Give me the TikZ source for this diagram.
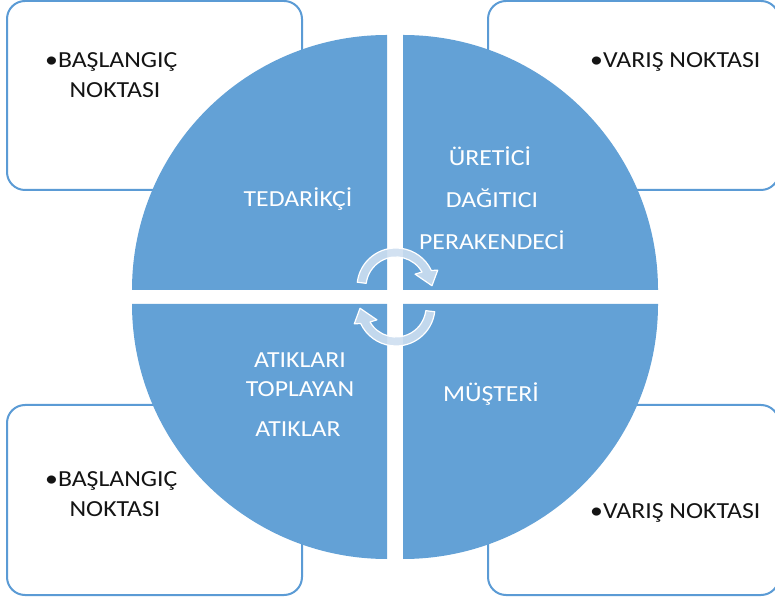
\documentclass[tikz,border=0pt]{standalone}
\usepackage{fontspec}
\usetikzlibrary{calc}
\setmainfont{Carlito}[FakeStretch=1.12]
\definecolor{qblue}{RGB}{99,161,214}
\definecolor{boxline}{RGB}{91,155,213}
\definecolor{arrfill}{RGB}{205,222,240}
\definecolor{txtdark}{RGB}{20,20,20}
\tikzset{
  cornerbox/.style={draw=boxline, line width=2pt, fill=white, rounded corners=18pt},
  quad/.style={fill=qblue, draw=none},
  boxtxt/.style={inner sep=0pt, text=txtdark, font=\fontsize{23}{28}\selectfont},
  qtxt/.style={inner sep=0pt, anchor=base, text=white, font=\fontsize{23}{28}\selectfont},
  cycarrow/.style={fill=arrfill, fill opacity=0.9, draw=white, line width=1.2pt, line join=round}
}
\begin{document}
\begin{tikzpicture}[x=1pt,y=1pt]
\useasboundingbox (0,0) rectangle (775,599);
% corner boxes
\draw[cornerbox] (7,409) rectangle (302,598);
\draw[cornerbox] (488,409) rectangle (779,598);
\draw[cornerbox] (7,4) rectangle (302,194);
\draw[cornerbox] (488,4) rectangle (779,194);
% quadrants
\fill[quad] (387,309) -- (132,309) arc[start angle=180,end angle=90,radius=255] -- cycle;
\fill[quad] (403,309) -- (403,564) arc[start angle=90,end angle=0,radius=255] -- cycle;
\fill[quad] (387,295) -- (387,40) arc[start angle=270,end angle=180,radius=255] -- cycle;
\fill[quad] (403,295) -- (658,295) arc[start angle=0,end angle=-90,radius=255] -- cycle;
% cycle arrows
\coordinate (c1) at (396,312);
\coordinate (c2) at (396,292);
\draw[cycarrow] ($(c1)+(173:39)$) arc[start angle=173,end angle=25,radius=39]
  -- ($(c1)+(22:45)$) -- ($(c1)+(2:36)$) -- ($(c1)+(34:23)$) -- ($(c1)+(30:30)$)
  arc[start angle=30,end angle=173,radius=30] -- cycle;
\draw[cycarrow] ($(c2)+(353:39)$) arc[start angle=353,end angle=205,radius=39]
  -- ($(c2)+(202:45)$) -- ($(c2)+(182:36)$) -- ($(c2)+(214:23)$) -- ($(c2)+(210:30)$)
  arc[start angle=210,end angle=353,radius=30] -- cycle;
% box texts
\node[boxtxt, anchor=base west] (tl1) at (45,531) {•BAŞLANGIÇ};
\node[boxtxt, anchor=base] (tl2) at (115,501) {NOKTASI};
\node[boxtxt, anchor=base west] (bl1) at (45,112) {•BAŞLANGIÇ};
\node[boxtxt, anchor=base] (bl2) at (115,82) {NOKTASI};
\node[boxtxt, anchor=base west] (tr1) at (590,531) {•VARIŞ NOKTASI};
\node[boxtxt, anchor=base west] (br1) at (590,81) {•VARIŞ NOKTASI};
% quadrant texts
\node[qtxt] (q1) at (298,392) {TEDARİKÇİ};
\node[qtxt] (q2a) at (490,433) {ÜRETİCİ};
\node[qtxt] (q2b) at (492,391) {DAĞITICI};
\node[qtxt] (q2c) at (492,349) {PERAKENDECİ};
\node[qtxt] (q3a) at (300,231) {ATIKLARI};
\node[qtxt] (q3b) at (300,202) {TOPLAYAN};
\node[qtxt] (q3c) at (298,162) {ATIKLAR};
\node[qtxt] (q4) at (491,197) {MÜŞTERİ};
\end{tikzpicture}
\end{document}
